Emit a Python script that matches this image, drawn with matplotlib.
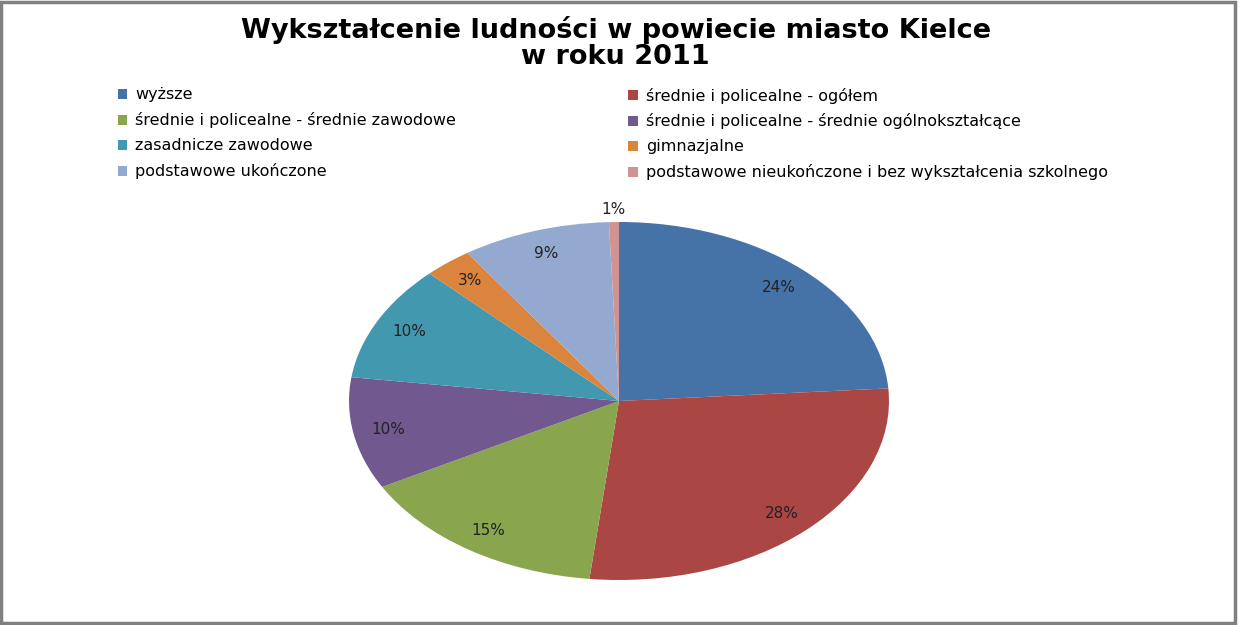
import matplotlib.pyplot as plt
from matplotlib.patches import Patch, Rectangle

kategorie = [
    'wyższe',
    'średnie i policealne - ogółem',
    'średnie i policealne - średnie zawodowe',
    'średnie i policealne - średnie ogólnokształcące',
    'zasadnicze zawodowe',
    'gimnazjalne',
    'podstawowe ukończone',
    'podstawowe nieukończone i bez wykształcenia szkolnego',
]
udzial = [23.9, 27.9, 15.3, 10.1, 10.5, 2.9, 8.9, 0.6]
kolory = ['#4572A7', '#AA4643', '#89A54E', '#71588F',
          '#4198AF', '#DB843D', '#93A9CF', '#D19392']

plt.rcParams['font.family'] = ['DejaVu Sans']

fig = plt.figure(figsize=(12.39, 6.25), dpi=100)

# ramka wykresu
fig.add_artist(Rectangle((0.001, 0.004), 0.996, 0.993, transform=fig.transFigure,
                         fill=False, edgecolor='#808080', linewidth=2.5))

fig.text(0.497, 0.975, 'Wykształcenie ludności w powiecie miasto Kielce\nw roku 2011',
         ha='center', va='top', fontsize=19.5, fontweight='bold', linespacing=1.0)

ax = fig.add_axes([0.2817, 0.072, 0.4358, 0.5728])
klin, _, teksty = ax.pie(udzial, colors=kolory, startangle=90, counterclock=False,
                         autopct='%1.0f%%', pctdistance=0.87,
                         textprops=dict(fontsize=11, color='#222222'))
ax.set_aspect('auto')
ax.set_xlim(-1, 1)
ax.set_ylim(-1, 1)
# najmniejszy wycinek - etykieta na zewnątrz
x, y = teksty[-1].get_position()
teksty[-1].set_position((x * 1.07 / 0.87, y * 1.07 / 0.87))

uchwyty = [Patch(facecolor=c, edgecolor='none') for c in kolory]
for kol, xpos in ((0, 0.095), (1, 0.507)):
    idx = list(range(kol, len(kategorie), 2))
    fig.legend([uchwyty[i] for i in idx], [kategorie[i] for i in idx],
               loc='upper left', bbox_to_anchor=(xpos, 0.86), frameon=False,
               fontsize=11.5, handlelength=0.6, handleheight=0.6, handletextpad=0.5,
               labelspacing=0.62, borderaxespad=0, borderpad=0)

fig.savefig('out.png', dpi=100)
